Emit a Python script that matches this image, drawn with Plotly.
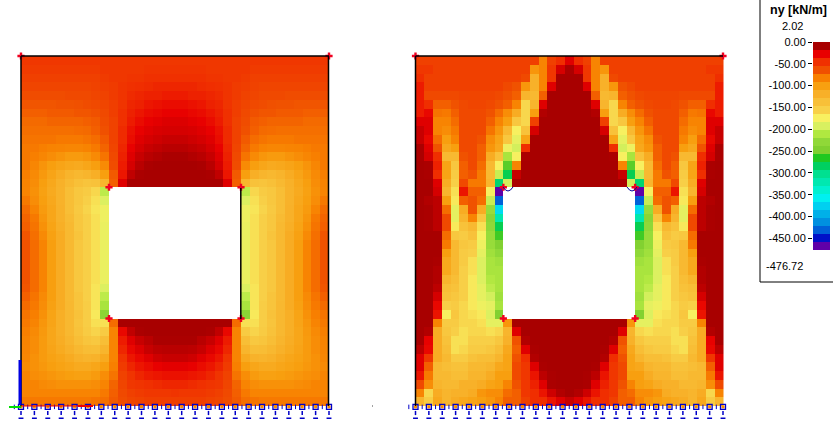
import numpy as np
import plotly.graph_objects as go

# magnitudes of ny [kN/m], left half of each plate (cols 0-17, col 17 = centre), None = opening
_ = None
ny_plate_a = [
[50,50,50,50,50,50,50,50,50,50,50,50,50,50,50,50,50,50],
[52,52,52,52,52,52,52,52,52,50,50,50,50,50,48,48,48,48],
[55,55,55,55,55,55,55,55,55,52,50,50,48,48,46,46,46,46],
[58,58,58,58,58,58,58,58,56,54,52,48,46,45,44,42,42,42],
[62,62,62,62,62,60,60,60,58,56,52,48,44,42,40,40,38,38],
[66,66,66,66,65,65,64,62,60,58,54,48,42,40,36,34,32,32],
[70,70,70,68,68,68,66,66,64,60,54,46,40,36,32,30,28,28],
[74,74,74,72,72,72,72,70,68,62,56,46,38,32,28,26,24,24],
[76,76,76,76,76,76,75,74,70,64,56,44,34,28,25,23,22,22],
[78,78,78,78,80,80,80,78,75,68,56,44,32,25,22,20,18,18],
[80,80,82,84,85,86,86,84,80,72,58,42,28,22,18,16,14,14],
[80,82,86,90,94,98,98,95,88,78,60,40,25,18,14,12,10,10],
[80,86,94,100,106,110,112,108,100,88,62,38,22,14,10,8,8,8],
[82,88,97,106,115,124,128,125,118,100,68,36,16,10,8,8,8,8],
[84,90,100,110,120,130,138,142,140,125,70,25,8,8,8,8,8,8],
[85,92,102,112,122,135,145,150,160,205,_,_,_,_,_,_,_,_],
[80,90,100,110,122,135,145,155,165,190,_,_,_,_,_,_,_,_],
[75,85,98,108,120,135,148,158,168,180,_,_,_,_,_,_,_,_],
[72,80,95,108,120,132,145,155,165,180,_,_,_,_,_,_,_,_],
[70,78,92,105,118,130,145,155,165,182,_,_,_,_,_,_,_,_],
[66,76,88,102,115,130,142,155,165,182,_,_,_,_,_,_,_,_],
[65,75,85,100,115,130,145,155,165,182,_,_,_,_,_,_,_,_],
[65,75,85,100,115,130,145,155,165,182,_,_,_,_,_,_,_,_],
[65,75,85,100,115,130,145,155,165,182,_,_,_,_,_,_,_,_],
[65,75,85,100,115,130,145,155,165,182,_,_,_,_,_,_,_,_],
[65,75,85,100,115,130,145,155,165,182,_,_,_,_,_,_,_,_],
[66,75,85,100,115,130,145,155,168,190,_,_,_,_,_,_,_,_],
[70,78,88,100,115,130,142,155,168,205,_,_,_,_,_,_,_,_],
[74,80,90,102,115,128,142,152,168,215,_,_,_,_,_,_,_,_],
[78,82,92,105,118,128,140,152,170,235,_,_,_,_,_,_,_,_],
[80,85,95,106,118,128,142,152,165,165,75,8,8,8,8,8,8,8],
[82,88,97,108,118,128,140,150,158,150,85,30,16,10,8,8,8,8],
[84,90,98,108,116,125,135,143,147,135,85,38,25,18,14,10,10,10],
[85,90,98,106,113,120,128,134,135,125,85,42,30,24,18,15,14,14],
[86,92,98,103,108,114,120,124,122,112,85,48,36,30,25,20,18,18],
[88,92,96,100,104,108,112,112,108,100,82,52,42,36,32,28,26,26],
[85,90,92,95,98,100,102,102,98,90,78,56,48,42,38,36,34,34],
[85,85,88,90,92,92,92,92,90,85,72,58,50,48,46,44,42,42],
[85,85,85,85,85,85,85,85,85,80,70,60,55,52,50,50,50,48],
[80,80,80,80,80,80,80,80,78,76,68,62,58,56,54,54,54,54],
]
ny_plate_b = [
[55,55,55,55,55,55,55,55,55,55,55,55,55,55,85,55,45,25],
[50,50,55,55,55,55,55,55,55,55,55,55,55,95,85,50,22,10],
[45,55,55,55,55,55,55,55,55,55,55,55,60,120,85,50,8,8],
[38,55,55,55,55,55,55,55,55,55,60,65,95,120,85,25,8,8],
[38,60,60,60,60,58,58,58,58,60,65,70,125,130,70,8,8,8],
[38,45,70,70,65,60,58,58,60,65,70,85,160,125,25,8,8,8],
[38,30,78,80,70,60,60,60,65,75,90,115,160,100,12,8,8,8],
[25,25,85,85,75,60,60,60,70,85,100,145,160,55,8,8,8,8],
[18,25,85,90,80,60,60,60,78,95,130,175,140,22,8,8,8,8],
[18,30,75,100,85,60,60,65,90,105,145,185,105,8,8,8,8,8],
[10,25,65,110,100,60,60,70,95,110,180,195,45,8,8,8,8,8],
[10,22,45,130,130,65,60,70,115,140,215,175,10,8,8,8,8,8],
[8,10,40,105,145,70,60,75,130,175,255,85,8,8,8,8,8,8],
[8,10,45,105,150,70,65,80,130,200,280,18,8,8,8,8,8,8],
[8,8,25,115,155,60,80,80,125,290,195,10,8,8,8,8,8,8],
[8,8,22,125,165,35,70,70,175,470,_,_,_,_,_,_,_,_],
[8,12,15,100,170,70,65,75,200,430,_,_,_,_,_,_,_,_],
[8,10,15,75,185,115,65,115,225,370,_,_,_,_,_,_,_,_],
[8,10,15,60,185,125,85,145,235,320,_,_,_,_,_,_,_,_],
[8,10,15,60,170,140,130,165,230,280,_,_,_,_,_,_,_,_],
[8,8,8,75,145,150,140,175,225,260,_,_,_,_,_,_,_,_],
[8,8,8,80,130,145,150,180,225,245,_,_,_,_,_,_,_,_],
[8,8,8,100,130,150,155,185,220,230,_,_,_,_,_,_,_,_],
[8,8,10,110,130,150,165,190,215,220,_,_,_,_,_,_,_,_],
[8,8,12,110,130,155,165,190,215,215,_,_,_,_,_,_,_,_],
[8,8,12,125,135,155,170,190,210,215,_,_,_,_,_,_,_,_],
[8,8,15,135,140,155,170,185,205,215,_,_,_,_,_,_,_,_],
[8,8,22,140,145,155,170,185,195,220,_,_,_,_,_,_,_,_],
[8,8,30,155,150,160,170,180,185,215,_,_,_,_,_,_,_,_],
[8,8,35,175,145,160,165,170,190,245,_,_,_,_,_,_,_,_],
[8,8,85,150,150,160,160,165,185,185,95,8,8,8,8,8,8,8],
[8,12,115,145,155,165,160,160,165,160,125,25,8,8,8,8,8,8],
[8,28,115,140,165,165,155,155,155,145,120,65,12,8,8,8,8,8],
[15,30,115,135,165,160,150,150,145,135,110,70,25,10,8,8,8,8],
[25,50,115,130,150,150,140,135,135,125,105,65,45,12,8,8,8,8],
[25,70,130,135,140,140,130,130,125,110,105,60,50,25,10,8,8,8],
[35,80,130,130,135,135,125,125,115,100,100,60,50,35,15,10,8,8],
[60,90,125,130,130,120,120,115,105,100,85,65,50,40,25,10,8,8],
[85,160,115,125,120,120,115,95,90,90,75,70,50,45,35,20,12,8],
[125,150,110,125,115,110,105,100,95,85,70,70,55,45,45,35,25,18],
]
band_colors = ["#A80000","#E80000","#F03000","#F05000","#F88000","#F8A010","#F8B028",
    "#F8C038","#F8D048","#F8F060","#D8F060","#B0E840","#90D838","#80D030","#20C820",
    "#00D060","#00E090","#00E8B0","#00F0D0","#00F0F0","#00D0F0","#00B0E8","#0090E0",
    "#0060D8","#0010C8","#6000A8"]
legend_ticks = [0,-50,-100,-150,-200,-250,-300,-350,-400,-450]
legend_ticktext = ["0.00","-50.00","-100.00","-150.00","-200.00","-250.00","-300.00","-350.00","-400.00","-450.00"]
ny_max = 2.02
ny_min = -476.72
corner_nodes_x = [-0.5,34.5,9.5,24.5,9.5,24.5]
corner_nodes_y = [-0.5,-0.5,14.5,14.5,29.5,29.5]
support_count = 24

W,H = 833,436
CELL_Y = 8.75
EXTRA_X = 2       # cells of axis room around a plate for the supports
EXTRA_Y = 2
def dx(a,b): return [a/W,b/W]
def dy(t,b): return [1-b/H,1-t/H]
def full(half):
    return np.array([[np.nan if v is None else -v for v in (r+r[-2::-1])] for r in half],dtype=float)

n = len(band_colors)
step = -ny_min/n
cs = [[0,band_colors[-1]]]+[[1-(i+.5)/n,band_colors[i]] for i in range(n-1,-1,-1)]+[[1,band_colors[0]]]

fig = go.Figure()
panels = [(ny_plate_a,"x","y",21,329),(ny_plate_b,"x2","y2",415.5,723)]
layout = {}
sx = np.linspace(-0.5,34.5,support_count)
mx = (sx[:-1]+sx[1:])/2
mx = np.concatenate([[sx[0]-(sx[1]-sx[0])/2],mx])
for k,(d,xa,ya,l,r) in enumerate(panels):
    fig.add_trace(go.Heatmap(z=full(d),colorscale=cs,zmin=ny_min,zmax=0,showscale=False,xaxis=xa,yaxis=ya,hoverongaps=False))
    s = "" if k==0 else "2"
    wc=(r-l)/35
    layout["xaxis"+s]=dict(domain=dx(l-EXTRA_X*wc,r+EXTRA_X*wc),range=[-0.5-EXTRA_X,34.5+EXTRA_X],visible=False,fixedrange=True)
    layout["yaxis"+s]=dict(domain=dy(56,406+EXTRA_Y*CELL_Y),range=[39.5+EXTRA_Y,-0.5],visible=False,fixedrange=True)
    common=dict(mode="markers",xaxis=xa,yaxis=ya,cliponaxis=False,showlegend=False,hoverinfo="skip")
    B="#0000C8"
    fig.add_trace(go.Scatter(x=mx,y=[39.6]*len(mx),marker=dict(symbol="line-ns",size=3.2,line=dict(width=1,color=B)),**common))
    fig.add_trace(go.Scatter(x=sx,y=[40.3]*len(sx),marker=dict(symbol="line-ns",size=3,line=dict(width=1.5,color=B)),**common))
    fig.add_trace(go.Scatter(x=sx,y=[40.9]*len(sx),marker=dict(symbol="line-ew",size=3.5,line=dict(width=1.5,color=B)),**common))
    fig.add_trace(go.Scatter(x=sx,y=[39.6]*len(sx),marker=dict(symbol="square",size=3,color="#F89000",line=dict(width=0)),**common))
    fig.add_trace(go.Scatter(x=sx,y=[39.6]*len(sx),marker=dict(symbol="square-open",size=5,color=B,line=dict(width=1.3,color=B)),**common))
    fig.add_trace(go.Scatter(x=corner_nodes_x,y=corner_nodes_y,marker=dict(symbol="cross",size=6,color="#F00020",line=dict(width=0)),**common))

# legend bar
centers = [-(i+.5)*step for i in range(n)]
fig.add_trace(go.Heatmap(x=[0],y=centers,z=[[c] for c in centers],colorscale=cs,zmin=ny_min,zmax=0,showscale=False,xaxis="x3",yaxis="y3",hoverinfo="skip"))
layout["xaxis3"]=dict(domain=dx(813,830),range=[-0.5,0.5],visible=False,fixedrange=True)
layout["yaxis3"]=dict(domain=dy(42,250),range=[ny_min,0],anchor="x3",side="left",tickvals=legend_ticks,ticktext=legend_ticktext,
    ticks="outside",ticklen=4,tickcolor="#000",tickwidth=1,showgrid=False,zeroline=False,showline=False,automargin=False,
    tickfont=dict(family="Liberation Sans",size=11,color="#000"),fixedrange=True)

def line(x0,y0,x1,y1,c,w):
    return dict(type="line",xref="paper",yref="paper",x0=x0/W,x1=x1/W,y0=1-y0/H,y1=1-y1/H,line=dict(color=c,width=w))
shapes=[line(760,0,760,282,"#000",1),line(760,282,833,282,"#000",1),
  line(21,56,329,56,"#000",1.5),line(21,56,21,406,"#000",1.5),line(328.5,56,328.5,406,"#000",1.5),
  line(240.8,188,240.8,319,"#000",1.5),
  line(415.5,56,723,56,"#000",1.5),line(415.5,56,415.5,406,"#000",1.5),
  line(20,360,20,405,"#0000E0",3),line(9,407,21,407,"#00E000",2),
  line(21,406,78,406,"#F00000",1),line(78,406,93,406,"#F00000",2),
  line(372,406,373,406,"#444",1)]
for cx in (508,632):
    shapes.append(dict(type="path",xref="paper",yref="paper",
        path=f"M {(cx-5)/W} {1-187/H} Q {cx/W} {1-195/H} {(cx+5)/W} {1-187/H}",line=dict(color="#0000A0",width=1)))

def txt(s,x,y,size=11,bold=False):
    return dict(text=f"<b>{s}</b>" if bold else s,xref="paper",yref="paper",x=x/W,y=1-y/H,showarrow=False,
        xanchor="right",yanchor="middle",font=dict(family="Liberation Sans",size=size,color="#000"))
ann=[txt("ny [kN/m]",829,10,12.5,True),txt(f"{ny_max:.2f}",805,26),txt(f"{ny_min:.2f}",805,266)]

fig.update_layout(width=W,height=H,margin=dict(l=0,r=0,t=0,b=0,pad=0,autoexpand=False),paper_bgcolor="#fff",plot_bgcolor="#fff",
    showlegend=False,shapes=shapes,annotations=ann,**layout)
fig.write_html("out.html",config={"displayModeBar":False},
    post_script="document.body.style.margin='0';document.documentElement.style.overflow='hidden';")
